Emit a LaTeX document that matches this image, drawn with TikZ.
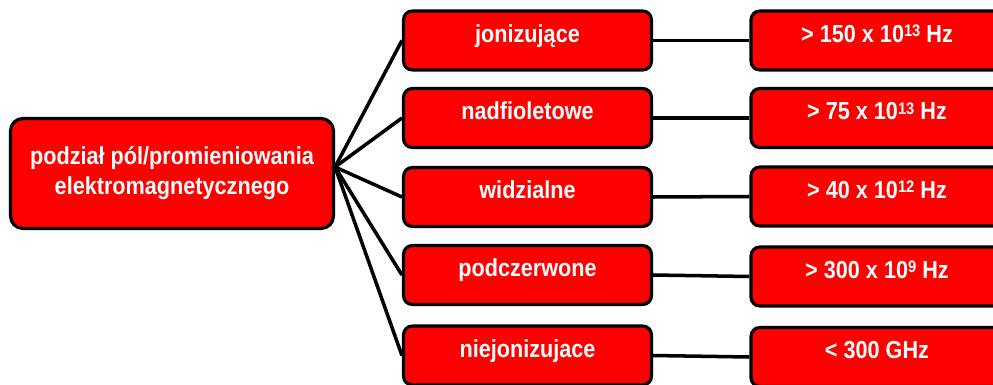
\documentclass[tikz,border=0pt]{standalone}
\usepackage{fontspec}
\setmainfont[FakeStretch=0.88]{Liberation Sans}
\usepackage{tikz}
\newcommand{\pow}[1]{\raisebox{3.2pt}{\fontsize{9.5}{10}\selectfont #1}}
\tikzset{
	box/.style={draw=black,line width=1.8pt,fill=red,text=white,inner sep=0pt,font=\bfseries\fontsize{14}{17}\selectfont},
	mid/.style={box,rounded corners=5pt,minimum width=4.96cm,minimum height=1.18cm,text height=10pt,text depth=8pt},
	rgt/.style={mid,minimum width=5.04cm},
	link/.style={line width=2pt}
}

\begin{document}
\begin{tikzpicture}[x=0.02cm,y=-0.02cm]
			\useasboundingbox (0,0) rectangle (993,385);
			\clip (0,0) rectangle (993,385);
			\node[box,rounded corners=7pt,minimum width=6.46cm,minimum height=2.2cm,align=center] (root) at (172,173.5) {podział pól/promieniowania\\elektromagnetycznego};
			\coordinate (hub) at ([yshift=0.13cm]root.east);

			\node[mid] (m1) at (527.5,40.5) {jonizujące};
			\node[mid] (m2) at (527.5,118) {nadfioletowe};
			\node[mid] (m3) at (527.5,197) {widzialne};
			\node[mid] (m4) at (527.5,275) {podczerwone};
			\node[mid] (m5) at (527.5,355.5) {niejonizujace};

			\node[rgt] (r1) at (877,40.5) {> 150 x 10\pow{13} Hz};
			\node[rgt] (r2) at (877,118) {> 75 x 10\pow{13} Hz};
			\node[rgt] (r3) at (877,196.5) {> 40 x 10\pow{12} Hz};
			\node[rgt] (r4) at (877,276.5) {> 300 x 10\pow{9} Hz};
			\node[rgt] (r5) at (877,357) {< 300 GHz};

			\draw[link] (hub) -- (m1.west);
			\draw[link] (hub) -- (m2.west);
			\draw[link] (hub) -- (m3.west);
			\draw[link] (hub) -- (m4.west);
			\draw[link] (hub) -- (m5.west);

			\draw[link] (m1.east) -- (r1.west);
			\draw[link] (m2.east) -- (r2.west);
			\draw[link] (m3.east) -- (r3.west);
			\draw[link] (m4.east) -- (r4.west);
			\draw[link] (m5.east) -- (r5.west);
\end{tikzpicture}
\end{document}
